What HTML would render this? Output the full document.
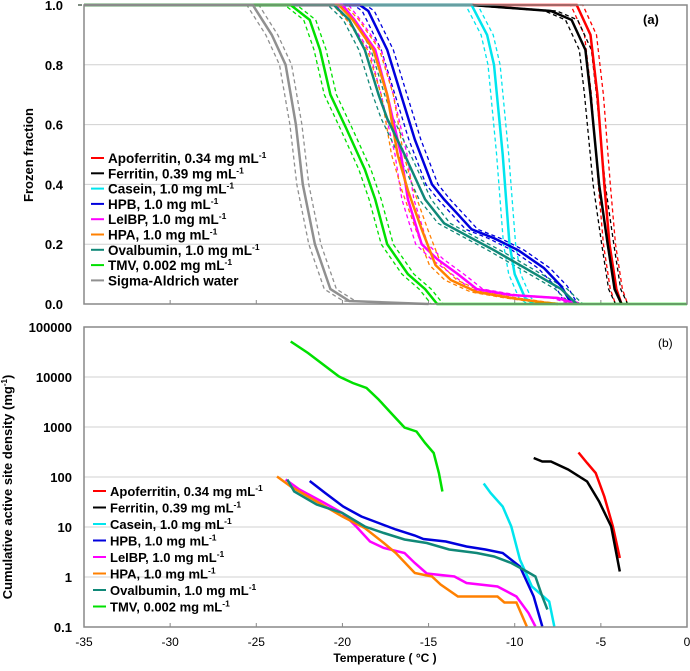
<!DOCTYPE html>
<html><head><meta charset="utf-8"><style>
body{margin:0;background:#fff}
svg text{font-family:"Liberation Sans",Arial,sans-serif}
</style></head><body>
<svg id="chart" width="690" height="666" viewBox="0 0 690 666" xmlns="http://www.w3.org/2000/svg">
<g id="top"></g>
<g id="bot"></g>
</svg>
<script>
const names=["Apoferritin","Ferritin","Casein","HPB","LeIBP","HPA","Ovalbumin","TMV","Sigma-Aldrich water"];
const concs=["0.34 mg mL","0.39 mg mL","1.0 mg mL","1.0 mg mL","1.0 mg mL","1.0 mg mL","1.0 mg mL","0.002 mg mL",""];
const colors=["#ff0000","#000000","#00e5ee","#0000dd","#ff00ff","#ff8000","#108878","#00e000","#909090"];
const xTicks=[-35,-30,-25,-20,-15,-10,-5,0];
const ffTicks=[0,0.2,0.4,0.6,0.8,1.0];
const nTicks=[0.1,1,10,100,1000,10000,100000];
const nTickLabels=["0.1","1","10","100","1000","10000","100000"];
// Frozen fraction curves: [T, fraction]
const ffApo=[[-35,1],[-6.4,1],[-5.6,0.9],[-5.2,0.7],[-4.8,0.4],[-4.5,0.2],[-4.1,0.05],[-3.8,0]];
const ffFer=[[-35,1],[-12.5,1],[-7.9,0.98],[-6.7,0.95],[-5.9,0.85],[-5.6,0.7],[-5.1,0.4],[-4.6,0.2],[-4.2,0.05],[-3.8,0]];
const ffCas=[[-35,1],[-12.5,1],[-11.6,0.9],[-11.2,0.8],[-10.7,0.5],[-10.3,0.2],[-10.0,0.1],[-9.4,0.02],[-8.9,0]];
const ffHPB=[[-35,1],[-19,1],[-18.5,0.98],[-17.4,0.85],[-16.6,0.7],[-15.8,0.55],[-14.8,0.4],[-14.1,0.35],[-13.3,0.3],[-12.5,0.25],[-11.2,0.22],[-9.8,0.18],[-8.3,0.12],[-7.3,0.06],[-6.7,0]];
const ffLeI=[[-35,1],[-20,1],[-19.3,0.95],[-18.1,0.85],[-17.4,0.7],[-16.6,0.5],[-16.2,0.35],[-15.4,0.2],[-14.5,0.15],[-13.3,0.1],[-12.2,0.05],[-10.2,0.03],[-7.5,0.02],[-6.4,0]];
const ffHPA=[[-35,1],[-20.2,1],[-19.4,0.95],[-18.2,0.85],[-17.4,0.7],[-16.8,0.5],[-16.2,0.38],[-15.4,0.25],[-14.6,0.13],[-13.7,0.08],[-12.2,0.04],[-10.2,0.02],[-8.3,0.005],[-7.5,0]];
const ffOva=[[-35,1],[-20.5,1],[-19.6,0.95],[-18.7,0.85],[-17.9,0.7],[-17.4,0.62],[-16.4,0.5],[-15.2,0.35],[-14.1,0.27],[-12.5,0.22],[-11.2,0.18],[-9.4,0.12],[-7.3,0.05],[-6.4,0]];
const ffTMV=[[-35,1],[-23.0,1],[-21.9,0.95],[-21.3,0.85],[-20.7,0.7],[-19.8,0.59],[-18.7,0.45],[-18.1,0.35],[-17.4,0.2],[-16.2,0.1],[-15.2,0.05],[-14.5,0],[0,0]];
const ffWat=[[-35,1],[-25.2,1],[-24.1,0.9],[-23.3,0.8],[-22.7,0.6],[-22.3,0.4],[-21.6,0.2],[-20.7,0.05],[-19.6,0.01],[-15,0]];
const ffSeries=[ffApo,ffFer,ffCas,ffHPB,ffLeI,ffHPA,ffOva,ffTMV,ffWat];
// Cumulative active site density: [T, log10(n)]
const nApo=[[-6.3,2.49],[-5.8,2.28],[-5.3,2.08],[-4.8,1.61],[-4.3,1.01],[-3.9,0.38]];
const nFer=[[-8.9,2.38],[-8.4,2.31],[-7.9,2.31],[-6.9,2.15],[-5.8,1.91],[-5.1,1.51],[-4.4,1.01],[-3.9,0.11]];
const nCas=[[-11.8,1.87],[-11.4,1.68],[-10.7,1.41],[-10.2,1.01],[-9.7,0.35],[-9.0,-0.19],[-8.0,-0.49],[-7.7,-0.99]];
const nHPB=[[-21.9,1.92],[-21.0,1.68],[-19.96,1.41],[-18.9,1.21],[-17.9,1.08],[-16.9,0.95],[-15.8,0.83],[-15.3,0.76],[-14.0,0.71],[-12.8,0.61],[-11.7,0.55],[-10.7,0.48],[-9.7,0.21],[-8.9,-0.39],[-8.4,-0.99]];
const nLeI=[[-23.3,1.95],[-22.5,1.75],[-21.2,1.51],[-20.0,1.28],[-19.2,1.01],[-18.4,0.71],[-17.6,0.58],[-16.4,0.48],[-15.8,0.28],[-15.1,0.07],[-13.5,0.01],[-12.8,-0.12],[-11.0,-0.19],[-9.9,-0.39],[-9.2,-0.72],[-8.8,-0.99]];
const nHPA=[[-23.8,2.01],[-23.0,1.81],[-21.5,1.51],[-20.0,1.21],[-18.7,0.98],[-17.6,0.68],[-16.9,0.48],[-15.8,0.08],[-14.8,0.01],[-14.3,-0.15],[-13.3,-0.39],[-11.0,-0.39],[-10.6,-0.51],[-9.9,-0.51],[-9.3,-0.99]];
const nOva=[[-23.2,1.95],[-22.8,1.71],[-21.5,1.45],[-20.0,1.28],[-18.7,1.01],[-17.6,0.88],[-16.4,0.75],[-15.1,0.68],[-13.8,0.55],[-12.2,0.48],[-11.2,0.41],[-10.2,0.28],[-9.3,0.11],[-8.8,0.01],[-8.4,-0.39],[-8.1,-0.65]];
const nTMV=[[-23.0,4.71],[-22.0,4.48],[-20.2,4.01],[-19.4,3.88],[-18.6,3.78],[-17.9,3.55],[-17.1,3.25],[-16.4,2.99],[-15.7,2.91],[-15.2,2.68],[-14.7,2.48],[-14.4,2.08],[-14.2,1.71]];
const nSeries=[nApo,nFer,nCas,nHPB,nLeI,nHPA,nOva,nTMV];
const DASH_SHIFT=0.35;

const NS="http://www.w3.org/2000/svg";
function mk(parent,tag,attrs,text){const e=document.createElementNS(NS,tag);for(const k in attrs)e.setAttribute(k,attrs[k]);if(text!==undefined)e.textContent=text;parent.appendChild(e);return e;}
const X0=84,X1=687;
const xs=t=>X0+(t+35)/35*(X1-X0);
const T_Y0=304,T_Y1=5;
const ys1=f=>T_Y0-f*(T_Y0-T_Y1);
const B_Y0=627,B_Y1=327;
const ys2=l=>B_Y0-(l+1)/6*(B_Y0-B_Y1);
const topG=document.getElementById('top'),botG=document.getElementById('bot');

ffTicks.forEach(v=>{
  if(v>0&&v<1){const g=mk(topG,'line',{x1:X0,x2:X1,y1:ys1(v),y2:ys1(v),stroke:'#d0d0d0','stroke-width':1});
  }
  const t=mk(topG,'text',{x:63,y:ys1(v)+5,'text-anchor':'end','font-size':13,'font-weight':'bold'},v.toFixed(1));
  
});
xTicks.forEach(v=>{const l=mk(topG,'line',{x1:xs(v),x2:xs(v),y1:T_Y0,y2:T_Y0-4,stroke:'#888'});
});
function linePath(pts,fx,fy){return pts.map((p,i)=>(i?'L':'M')+fx(p[0]).toFixed(1)+','+fy(p[1]).toFixed(1)).join('');}
ffSeries.forEach((s,i)=>{
  [-DASH_SHIFT,DASH_SHIFT].forEach(d=>{
    const p=mk(topG,'path',{d:linePath(s,t=>xs(Math.min(0,t+d)),ys1),fill:'none',stroke:colors[i],'stroke-width':1.3,'stroke-dasharray':'4,3'});
    
    
  });
});
ffSeries.forEach((s,i)=>{
  const p=mk(topG,'path',{d:linePath(s,xs,ys1),fill:'none',stroke:colors[i],'stroke-width':2.5});
  
  
});
let fr=mk(topG,'rect',{x:X0,y:T_Y1,width:X1-X0,height:T_Y0-T_Y1,fill:'none',stroke:'#888','stroke-width':1.5});

let yt=mk(topG,'text',{x:0,y:0,transform:'translate(33,155) rotate(-90)','text-anchor':'middle','font-size':13,'font-weight':'bold'},'Frozen  fraction');

let pa=mk(topG,'text',{x:643,y:24,'font-size':13,'font-weight':'bold'},'(a)');

names.forEach((n,i)=>{
  const y=158+i*15.3;
  const g=mk(topG,'g',{});
  
  mk(g,'line',{x1:91,x2:104,y1:y,y2:y,stroke:colors[i],'stroke-width':2});
  const t=mk(g,'text',{x:108,y:y+5,'font-size':13.5,'font-weight':'bold'},n+(concs[i]?', '+concs[i]:''));
  if(concs[i])mk(t,'tspan',{dy:-5,'font-size':8.5},'-1');
});

nTicks.forEach((v,i)=>{
  const l=Math.log10(v);
  if(l>-1&&l<5){const g=mk(botG,'line',{x1:X0,x2:X1,y1:ys2(l),y2:ys2(l),stroke:'#d0d0d0','stroke-width':1});
  }
  const t=mk(botG,'text',{x:72,y:ys2(l)+5,'text-anchor':'end','font-size':13,'font-weight':'bold'},nTickLabels[i]);
  
});
xTicks.forEach(v=>{
  const l=mk(botG,'line',{x1:xs(v),x2:xs(v),y1:B_Y0,y2:B_Y0-4,stroke:'#888'});
  
  const t=mk(botG,'text',{x:xs(v),y:646,'text-anchor':'middle','font-size':12},String(v));
  
});
nSeries.forEach((s,i)=>{
  const p=mk(botG,'path',{d:linePath(s,xs,ys2),fill:'none',stroke:colors[i],'stroke-width':2.5});
  
  
});
fr=mk(botG,'rect',{x:X0,y:B_Y1,width:X1-X0,height:B_Y0-B_Y1,fill:'none',stroke:'#888','stroke-width':1.5});

yt=mk(botG,'text',{x:0,y:0,transform:'translate(12,487) rotate(-90)','text-anchor':'middle','font-size':13,'font-weight':'bold'},'Cumulative active site density  (mg');

mk(yt,'tspan',{dy:-5,'font-size':8},'-1');mk(yt,'tspan',{dy:5},')');
let xt=mk(botG,'text',{x:385,y:662,'text-anchor':'middle','font-size':12,'font-weight':'bold'},'Temperature ( °C )');

pa=mk(botG,'text',{x:658,y:347,'font-size':12},'(b)');

for(let i=0;i<8;i++){
  const y=491+i*16.5;
  const g=mk(botG,'g',{});
  
  mk(g,'line',{x1:93,x2:106,y1:y,y2:y,stroke:colors[i],'stroke-width':2});
  const t=mk(g,'text',{x:110,y:y+5,'font-size':13,'font-weight':'bold'},names[i]+', '+concs[i]);
  mk(t,'tspan',{dy:-5,'font-size':8.5},'-1');
}
</script>
</body></html>
